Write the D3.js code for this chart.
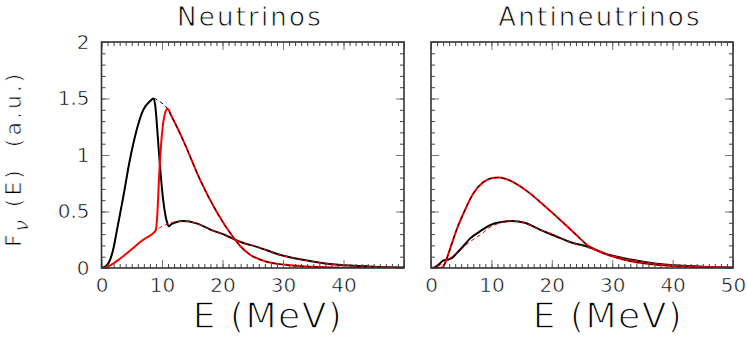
<!DOCTYPE html>
<html>
<head>
<meta charset="utf-8">
<script src="https://cdn.jsdelivr.net/npm/d3@7"></script>
<style>
  body { margin: 0; background: #fff; }
  svg text { font-family: "DejaVu Sans", sans-serif; fill: #000; stroke: #fff; paint-order: normal; }
</style>
</head>
<body>
<svg id="chart" width="747" height="341"></svg>
<script>
// energy axis (MeV) and flux axis (a.u.)
const energyMajor = [0, 10, 20, 30, 40, 50];
const energyMinor = d3.range(0, 51, 1);
const leftEnergyLabels = [0, 10, 20, 30, 40];
const rightEnergyLabels = [0, 10, 20, 30, 40, 50];
const fluxMajor = [0, 0.5, 1, 1.5, 2];
const fluxMinor = d3.range(0, 2.01, 0.1);

const panelTitles = ["Neutrinos", "Antineutrinos"];

// Neutrinos: swapped spectra (solid) and original spectra (dashed)
const nuBlackSolid = [[0,0],[0.7,0.015],[1.4,0.07],[2.0,0.18],[2.5,0.32],[3.6,0.63],[4.7,0.96],[5.8,1.22],[6.9,1.40],[8.0,1.475],[8.6,1.50],[8.9,1.43],[9.1,1.31],[9.55,0.98],[10.2,0.60],[10.8,0.41],[11.15,0.37],[11.6,0.39],[12.3,0.405],[13.5,0.415],[15.7,0.395],[18,0.34],[20.5,0.29],[23,0.23],[25.8,0.185],[29.6,0.115],[33.5,0.07],[37,0.04],[41,0.022],[45,0.012],[50,0.005]];
const nuRedSolid = [[0,0],[1,0.012],[1.95,0.04],[3,0.08],[4.2,0.13],[5.3,0.18],[6.4,0.23],[7.5,0.27],[8.6,0.31],[9.0,0.34],[9.2,0.45],[9.55,0.84],[9.95,1.16],[10.5,1.37],[10.9,1.41],[11.6,1.34],[13.5,1.13],[16.3,0.78],[19,0.50],[21.8,0.27],[23,0.19],[24.5,0.12],[27,0.06],[30,0.03],[35,0.01],[40,0.003],[50,0]];
const nuEOriginal = [[0,0],[0.7,0.015],[1.4,0.07],[2.0,0.18],[2.5,0.32],[3.6,0.63],[4.7,0.96],[5.8,1.22],[6.9,1.40],[8.0,1.475],[8.6,1.50],[9.7,1.47],[10.9,1.41],[11.6,1.34],[13.5,1.13],[16.3,0.78],[19,0.50],[21.8,0.27],[23,0.19],[24.5,0.12],[27,0.06],[30,0.03],[35,0.01],[40,0.003],[50,0]];
const nuXOriginal = [[0,0],[1,0.012],[1.95,0.04],[3,0.08],[4.2,0.13],[5.3,0.18],[6.4,0.23],[7.5,0.27],[8.6,0.31],[9.55,0.355],[10.5,0.38],[11.5,0.40],[12.3,0.41],[13.5,0.415],[15.7,0.395],[18,0.34],[20.5,0.29],[23,0.23],[25.8,0.185],[29.6,0.115],[33.5,0.07],[37,0.04],[41,0.022],[45,0.012],[50,0.005]];

// Antineutrinos
const abarRedSolid = [[0,0],[1.5,0],[2.0,0.01],[2.3,0.04],[3.1,0.16],[4.25,0.34],[5.35,0.48],[7.0,0.66],[8.66,0.76],[10,0.795],[11.1,0.80],[12.3,0.79],[13.6,0.76],[16.4,0.66],[19.2,0.53],[21.9,0.40],[24.7,0.26],[25.8,0.205],[27.5,0.155],[29.6,0.11],[33.5,0.055],[37,0.03],[41,0.015],[45,0.006],[50,0.002]];
const abarBlackSolid = [[0,0],[0.6,0.005],[1.2,0.027],[2.0,0.065],[2.9,0.075],[3.5,0.09],[4.25,0.13],[5.3,0.19],[6.45,0.26],[8,0.32],[9.8,0.38],[11.5,0.405],[13.4,0.416],[15.5,0.40],[18,0.34],[20.5,0.285],[23,0.23],[25.8,0.19],[29.6,0.115],[33.5,0.07],[37,0.04],[41,0.022],[45,0.012],[50,0.005]];

const svg = d3.select("#chart");
svg.append("rect").attr("width", 747).attr("height", 341).attr("fill", "#fff");

const plotTop = 42, plotBottom = 268;
const y = d3.scaleLinear().domain([0, 2]).range([plotBottom, plotTop]);

function drawPanel(i, left, right, xLabels, showY, series) {
    const x = d3.scaleLinear().domain([0, 50]).range([left, right]);
    const g = svg.append("g");

    // clip
    g.append("clipPath").attr("id", "clip" + i)
        .append("rect").attr("x", left).attr("y", plotTop).attr("width", right - left).attr("height", plotBottom - plotTop);

    const line = d3.line().x(d => x(d[0])).y(d => y(d[1])).curve(d3.curveMonotoneX);
    const curves = g.append("g").attr("clip-path", `url(#clip${i})`);
    series.forEach(s => {
        curves.append("path").datum(s.data)
            .attr("d", line)
            .attr("fill", "none")
            .attr("stroke", s.color)
            .attr("stroke-width", s.dash ? 1 : 2)
            .attr("stroke-dasharray", s.dash ? "4,3" : null)
            .attr("stroke-linejoin", "round");
    });

    // ticks (inward, all four sides)
    const tickStyle = (sel, color) => {
        sel.select(".domain").remove();
        sel.selectAll(".tick line").attr("stroke", color).attr("stroke-width", 1);
        sel.selectAll("text").attr("font-size", 20).attr("font-family", "DejaVu Sans, sans-serif")
            .attr("fill", "#000").attr("stroke", "#fff").attr("stroke-width", 0.6);
    };
    g.append("g").attr("transform", `translate(0,${plotBottom})`)
        .call(d3.axisBottom(x).tickValues(energyMinor).tickSizeInner(-4).tickSizeOuter(0).tickFormat(""))
        .call(s => tickStyle(s, "#444"));
    g.append("g").attr("transform", `translate(0,${plotBottom})`)
        .call(d3.axisBottom(x).tickValues(energyMajor).tickSizeInner(-8).tickSizeOuter(0).tickPadding(10)
            .tickFormat(d => xLabels.includes(d) ? d : ""))
        .call(s => tickStyle(s, "#777"));
    g.append("g").attr("transform", `translate(0,${plotTop})`)
        .call(d3.axisTop(x).tickValues(energyMinor).tickSizeInner(-4).tickSizeOuter(0).tickFormat(""))
        .call(s => tickStyle(s, "#444"));
    g.append("g").attr("transform", `translate(0,${plotTop})`)
        .call(d3.axisTop(x).tickValues(energyMajor).tickSizeInner(-8).tickSizeOuter(0).tickFormat(""))
        .call(s => tickStyle(s, "#777"));
    g.append("g").attr("transform", `translate(${left},0)`)
        .call(d3.axisLeft(y).tickValues(fluxMinor).tickSizeInner(-4).tickSizeOuter(0).tickFormat(""))
        .call(s => tickStyle(s, "#444"));
    g.append("g").attr("transform", `translate(${left},0)`)
        .call(d3.axisLeft(y).tickValues(fluxMajor).tickSizeInner(-8).tickSizeOuter(0).tickPadding(12)
            .tickFormat(d => showY ? String(d) : ""))
        .call(s => tickStyle(s, "#777"));
    g.append("g").attr("transform", `translate(${right},0)`)
        .call(d3.axisRight(y).tickValues(fluxMinor).tickSizeInner(-4).tickSizeOuter(0).tickFormat(""))
        .call(s => tickStyle(s, "#444"));
    g.append("g").attr("transform", `translate(${right},0)`)
        .call(d3.axisRight(y).tickValues(fluxMajor).tickSizeInner(-8).tickSizeOuter(0).tickFormat(""))
        .call(s => tickStyle(s, "#777"));

    // frame
    g.append("rect").attr("x", left).attr("y", plotTop).attr("width", right - left).attr("height", plotBottom - plotTop)
        .attr("fill", "none").attr("stroke", "#333").attr("stroke-width", 1.6);

    return x;
}

drawPanel(0, 101.5, 404, leftEnergyLabels, true, [
    { data: nuBlackSolid, color: "#000" },
    { data: nuRedSolid, color: "#f00" },
    { data: nuEOriginal, color: "#000", dash: true },
    { data: nuXOriginal, color: "#f00", dash: true }
]);
drawPanel(1, 431, 733, rightEnergyLabels, false, [
    { data: abarBlackSolid, color: "#000" },
    { data: abarRedSolid, color: "#f00" },
    { data: abarRedSolid, color: "#000", dash: true },
    { data: nuXOriginal, color: "#f00", dash: true }
]);

// titles
svg.append("text").attr("x", 250).attr("y", 26).attr("text-anchor", "middle")
    .attr("font-size", 26).attr("letter-spacing", 2.2).attr("stroke-width", 0.8).text(panelTitles[0]);
svg.append("text").attr("x", 600).attr("y", 26).attr("text-anchor", "middle")
    .attr("font-size", 26).attr("letter-spacing", 2.2).attr("stroke-width", 0.8).text(panelTitles[1]);

// x axis titles
svg.append("text").attr("x", 268).attr("y", 328).attr("text-anchor", "middle")
    .attr("font-size", 36).attr("letter-spacing", 1.5).attr("stroke-width", 1.3)
    .style("white-space", "pre").text("E (MeV)");
svg.append("text").attr("x", 608).attr("y", 328).attr("text-anchor", "middle")
    .attr("font-size", 36).attr("letter-spacing", 1.5).attr("stroke-width", 1.3)
    .style("white-space", "pre").text("E (MeV)");

// y axis title
const yt = svg.append("text").attr("transform", "translate(21,247) rotate(-90)")
    .attr("font-size", 22).attr("letter-spacing", 3).attr("stroke-width", 0.7)
    .style("white-space", "pre");
yt.append("tspan").text("F");
yt.append("tspan").attr("dy", 7).attr("font-size", 20).attr("font-style", "italic").text("ν");
yt.append("tspan").attr("dy", -7).text(" (E)  (a.u.)");
</script>
</body>
</html>
